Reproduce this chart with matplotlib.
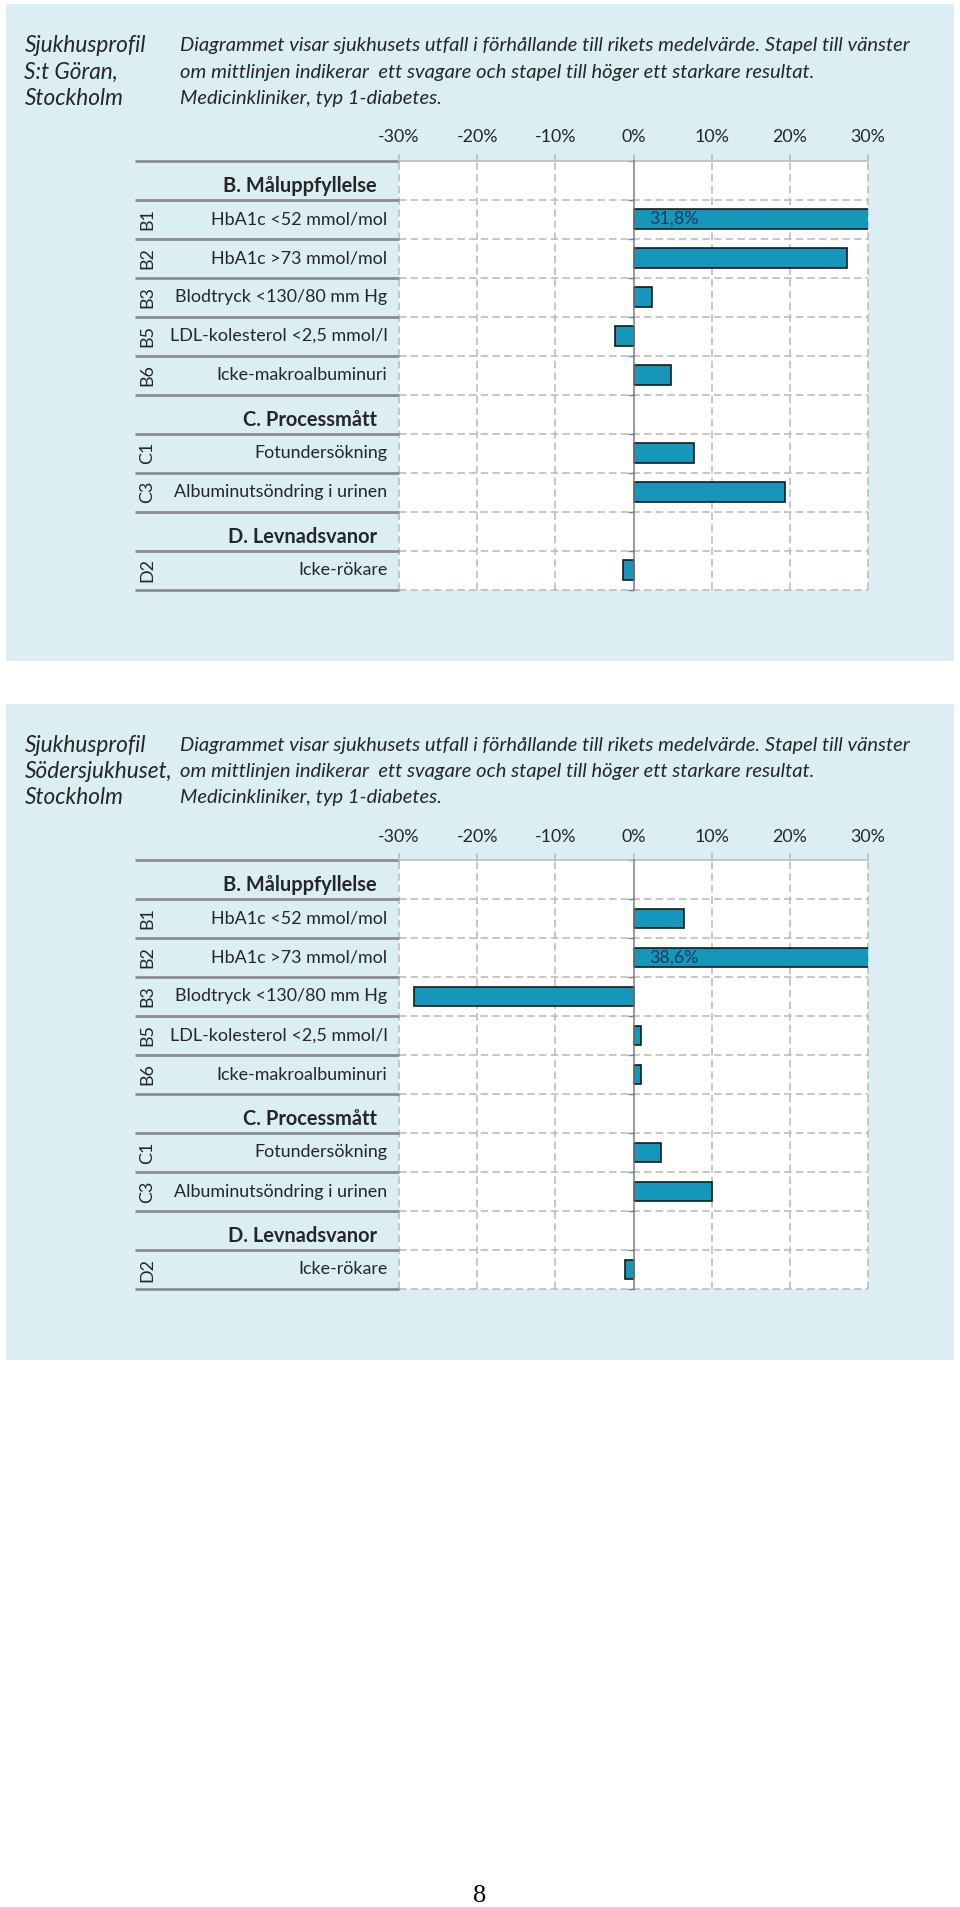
import numpy as np
import matplotlib
matplotlib.use("Agg")
import matplotlib.pyplot as plt
from matplotlib.patches import Rectangle
from matplotlib.ticker import FuncFormatter
from matplotlib.textpath import TextPath
from matplotlib.font_manager import FontProperties

# ---------------- data ----------------
row_labels = ["B. Måluppfyllelse", "HbA1c <52 mmol/mol", "HbA1c >73 mmol/mol",
              "Blodtryck <130/80 mm Hg", "LDL-kolesterol <2,5 mmol/l",
              "Icke-makroalbuminuri", "C. Processmått", "Fotundersökning",
              "Albuminutsöndring i urinen", "D. Levnadsvanor", "Icke-rökare"]
row_codes = ["", "B1", "B2", "B3", "B5", "B6", "", "C1", "C3", "", "D2"]
is_header = [True, False, False, False, False, False, True, False, False, True, False]

values_st_goran = [np.nan, 31.8, 27.3, 2.4, -2.4, 4.8, np.nan, 7.7, 19.4, np.nan, -1.3]
values_soder = [np.nan, 6.5, 38.6, -28.1, 0.9, 1.0, np.nan, 3.5, 10.0, np.nan, -1.1]

hospital_titles = [["Sjukhusprofil", "S:t Göran,", "Stockholm"],
                   ["Sjukhusprofil", "Södersjukhuset,", "Stockholm"]]
description = ["Diagrammet visar sjukhusets utfall i förhållande till rikets medelvärde. Stapel till vänster",
               "om mittlinjen indikerar  ett svagare och stapel till höger ett starkare resultat.",
               "Medicinkliniker, typ 1-diabetes."]
x_ticks = [-30, -20, -10, 0, 10, 20, 30]
page_number = "8"

# ---------------- style ----------------
W, H, DPI = 960, 1907, 100
FONT = "Lato"
PANEL = "#DAEEF3"
BAR = "#1497BB"
EDGE = "#1A1A1A"
GRID = "#BDBDBD"
SEP = "#8C8C8C"
TXT = "#262626"


def fit_size(s, target_px, **kw):
    fp = FontProperties(family=FONT, **kw)
    w = TextPath((0, 0), s, size=10, prop=fp).get_extents().width
    return 10 * target_px / (w * DPI / 72)


title_size = fit_size("Sjukhusprofil", 121, style="italic")
desc_size = fit_size(description[0], 732, style="italic")
label_size = fit_size("HbA1c <52 mmol/mol", 171) * 1.01
header_size = fit_size("B. Måluppfyllelse", 148, weight="bold") * 1.02

fig = plt.figure(figsize=(W / DPI, H / DPI), dpi=DPI)
fig.patch.set_facecolor("white")
bg = fig.add_axes([0, 0, 1, 1])
bg.set_xlim(0, W)
bg.set_ylim(H, 0)
bg.axis("off")

PX0, PX1 = 399.0, 868.0   # plot area x
ROW_H = 39.0
n = len(row_labels)


def ax_x(px):
    return (px - PX0) / (PX1 - PX0)


def draw_panel(top, titles, values):
    bg.add_patch(Rectangle((6, top), 948, 656.5, facecolor=PANEL, edgecolor="none", zorder=0))
    for k, (t, d) in enumerate(zip(titles, description)):
        yy = top + [42, 68.5, 94.5][k]
        bg.text(24.5, yy, t, ha="left", va="center", fontsize=title_size,
                family=FONT, style="italic", color=TXT)
        bg.text(180.5, yy, d, ha="left", va="center", fontsize=desc_size,
                family=FONT, style="italic", color=TXT)

    ptop = top + 156.5
    ph = ROW_H * n
    ax = fig.add_axes([PX0 / W, 1 - (ptop + ph) / H, (PX1 - PX0) / W, ph / H])
    ax.set_facecolor("white")
    ax.set_xlim(x_ticks[0], x_ticks[-1])
    ax.set_ylim(n - 0.5, -0.5)

    y = np.arange(n)
    vals = np.array(values, dtype=float)
    ok = ~np.isnan(vals)
    ax.barh(y[ok], vals[ok], height=0.5, color=BAR, edgecolor=EDGE, linewidth=1.2, zorder=3)
    for yi, v in zip(y[ok], vals[ok]):
        if v > x_ticks[-1]:
            ax.text(2, yi, f"{v:.1f}%".replace(".", ","), ha="left", va="center",
                    fontsize=label_size, family=FONT, color="#1F3864", zorder=4)

    bounds = np.arange(n + 1) - 0.5
    # dashed row separators in the plot area
    ax.hlines(bounds[1:], x_ticks[0], x_ticks[-1], colors=GRID, linewidth=1.2,
              linestyles=(0, (4.5, 2.5)), zorder=1, clip_on=False)
    # vertical dashed gridlines
    for xt in x_ticks:
        if xt != 0:
            ax.axvline(xt, color=GRID, linewidth=1.2, linestyle=(0, (4.5, 2.5)),
                       zorder=1, clip_on=False)
    # solid separators in label column
    ax.hlines(bounds, ax_x(135), 0, transform=ax.get_yaxis_transform(),
              colors=SEP, linewidth=2.0, clip_on=False, zorder=2)

    # axes / spines
    for s in ["right", "bottom"]:
        ax.spines[s].set_visible(False)
    ax.spines["top"].set_color(GRID)
    ax.spines["top"].set_linewidth(1.2)
    ax.spines["left"].set_position(("data", 0))
    ax.spines["left"].set_color("#7F7F7F")
    ax.spines["left"].set_linewidth(1.1)
    ax.spines["left"].set_zorder(5)
    ax.set_yticks(bounds)
    ax.set_yticklabels([])
    ax.tick_params(axis="y", length=4, direction="out", color="#7F7F7F", width=1)

    ax.xaxis.tick_top()
    ax.set_xticks(x_ticks)
    ax.xaxis.set_major_formatter(FuncFormatter(lambda v, p: f"{int(round(v))}%"))
    ax.tick_params(axis="x", length=5, color=GRID, width=1.2, pad=6,
                   labelsize=label_size, labelcolor=TXT)
    for lab in ax.get_xticklabels():
        lab.set_family(FONT)

    # row labels, codes
    tr = ax.get_yaxis_transform()
    for i, (lab, code, hd) in enumerate(zip(row_labels, row_codes, is_header)):
        if hd:
            ax.text(ax_x(377), i + 0.15, lab, transform=tr, ha="right", va="center",
                    fontsize=header_size, family=FONT, weight="bold", color=TXT)
        else:
            ax.text(ax_x(387.5), i, lab, transform=tr, ha="right", va="center",
                    fontsize=label_size, family=FONT, color=TXT)
            ax.text(ax_x(147.5), i, code, transform=tr, ha="center", va="center",
                    rotation=90, fontsize=label_size, family=FONT, color=TXT)
    return ax


draw_panel(4.0, hospital_titles[0], values_st_goran)
draw_panel(703.5, hospital_titles[1], values_soder)

bg.text(480, 1896, page_number, ha="center", va="center", fontsize=19,
        family="Liberation Serif", color="black")

fig.savefig("out.png", dpi=DPI, facecolor="white")
